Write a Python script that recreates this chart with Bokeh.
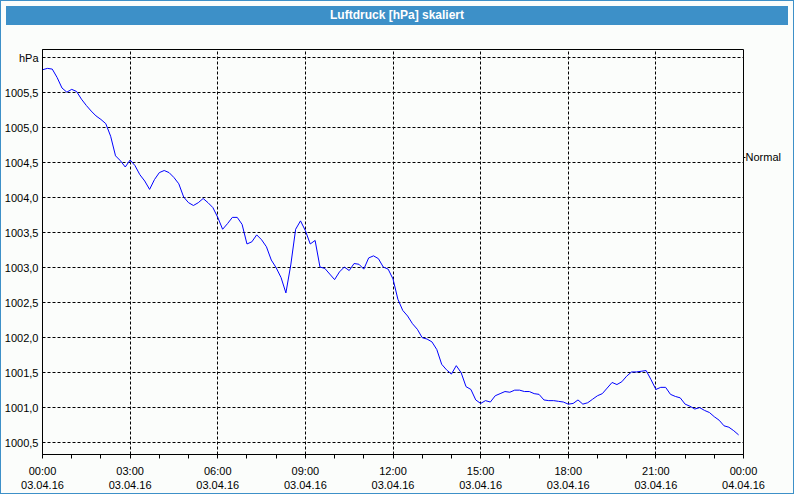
from bokeh.plotting import figure
from bokeh.models import FixedTicker, LinearAxis, Range1d, Div
from bokeh.layouts import column
from bokeh.embed import file_html
from bokeh.resources import INLINE

# Luftdruck (hPa), one reading every 10 minutes, 03.04.16 00:00 .. 23:50
pressure = [
    1005.83, 1005.85, 1005.84, 1005.72, 1005.57, 1005.51, 1005.55, 1005.52, 1005.41, 1005.32,
    1005.24, 1005.17, 1005.12, 1005.06, 1004.88, 1004.60, 1004.53, 1004.44, 1004.54, 1004.46,
    1004.33, 1004.24, 1004.12, 1004.26, 1004.36, 1004.39, 1004.36, 1004.29, 1004.20, 1004.01,
    1003.93, 1003.89, 1003.93, 1003.99, 1003.93, 1003.86, 1003.72, 1003.55, 1003.63, 1003.72,
    1003.72, 1003.62, 1003.34, 1003.37, 1003.47, 1003.40, 1003.30, 1003.11, 1003.00, 1002.86,
    1002.64, 1003.04, 1003.55, 1003.67, 1003.53, 1003.34, 1003.39, 1003.01, 1002.99, 1002.91,
    1002.83, 1002.94, 1003.01, 1002.96, 1003.06, 1003.05, 1002.98, 1003.14, 1003.17, 1003.13,
    1003.01, 1002.98, 1002.84, 1002.55, 1002.39, 1002.31, 1002.20, 1002.12, 1002.00, 1001.98,
    1001.94, 1001.83, 1001.62, 1001.54, 1001.48, 1001.60, 1001.50, 1001.30, 1001.26, 1001.11,
    1001.06, 1001.10, 1001.08, 1001.17, 1001.20, 1001.23, 1001.22, 1001.25, 1001.25, 1001.23,
    1001.23, 1001.20, 1001.19, 1001.11, 1001.10, 1001.10, 1001.09, 1001.08, 1001.05, 1001.06,
    1001.11, 1001.05, 1001.07, 1001.12, 1001.17, 1001.20, 1001.28, 1001.36, 1001.33, 1001.37,
    1001.45, 1001.51, 1001.51, 1001.52, 1001.53, 1001.40, 1001.26, 1001.29, 1001.29, 1001.19,
    1001.16, 1001.14, 1001.05, 1001.02, 1000.98, 1001.00, 1000.96, 1000.93, 1000.87, 1000.82,
    1000.74, 1000.72, 1000.67, 1000.61,
]
step_minutes = 10
x_hours = [i * step_minutes / 60 for i in range(len(pressure))]

x_ticks = [0, 3, 6, 9, 12, 15, 18, 21, 24]
x_labels = [
    "00:00\n03.04.16", "03:00\n03.04.16", "06:00\n03.04.16", "09:00\n03.04.16",
    "12:00\n03.04.16", "15:00\n03.04.16", "18:00\n03.04.16", "21:00\n03.04.16",
    "00:00\n04.04.16",
]
x_minor = list(range(25))

y_ticks = [1000.5, 1001.0, 1001.5, 1002.0, 1002.5, 1003.0, 1003.5, 1004.0,
           1004.5, 1005.0, 1005.5, 1006.0]
y_labels = ["1000,5", "1001,0", "1001,5", "1002,0", "1002,5", "1003,0", "1003,5",
            "1004,0", "1004,5", "1005,0", "1005,5", "hPa"]

normal_value = 1004.58
normal_label = "Normal"
title_text = "Luftdruck [hPa] skaliert"

FONT = "Liberation Sans"
BG = "#fbfdfb"
BLUE_BAR = "#3d90c8"

W = 782

p = figure(width=W, height=463, output_backend="svg", toolbar_location=None,
           x_range=Range1d(0, 24), y_range=Range1d(1000.33, 1006.12),
           min_border_left=38, min_border_right=38, min_border_top=19, min_border_bottom=37,
           background_fill_color=BG, border_fill_color=BG)

p.outline_line_color = "black"
p.outline_line_width = 1

xa = p.xaxis[0]
xa.ticker = FixedTicker(ticks=x_ticks, minor_ticks=x_minor)
xa.major_label_overrides = dict(zip(x_ticks, x_labels))
xa.major_tick_out = 0
xa.major_tick_in = 0
xa.minor_tick_out = 4
xa.minor_tick_in = 0
xa.minor_tick_line_color = "black"
xa.axis_line_color = "black"
xa.major_label_standoff = 6
xa.major_label_text_font = FONT
xa.major_label_text_font_size = "11px"
xa.major_label_text_color = "black"

ya = p.yaxis[0]
ya.ticker = FixedTicker(ticks=y_ticks, minor_ticks=[])
ya.major_label_overrides = dict(zip(y_ticks, y_labels))
ya.major_tick_out = 0
ya.major_tick_in = 0
ya.minor_tick_line_color = None
ya.axis_line_color = "black"
ya.major_label_standoff = 4
ya.major_label_text_font = FONT
ya.major_label_text_font_size = "11px"
ya.major_label_text_color = "black"

for g in (p.xgrid[0], p.ygrid[0]):
    g.grid_line_color = "black"
    g.grid_line_dash = "3 2"
    g.grid_line_width = 1
p.xgrid[0].ticker = FixedTicker(ticks=x_ticks[1:-1])

ra = LinearAxis(ticker=FixedTicker(ticks=[normal_value], minor_ticks=[]),
                major_label_overrides={normal_value: normal_label},
                axis_line_color=None, major_tick_out=2, major_tick_in=0,
                major_tick_line_color="black", minor_tick_line_color=None,
                major_label_standoff=0, major_label_text_font=FONT,
                major_label_text_font_size="11px", major_label_text_color="black")
p.add_layout(ra, "right")

p.line(x_hours, pressure, line_color="#0000ff", line_width=1)

title = Div(text=title_text, width=W, height=19,
            styles={"background-color": BLUE_BAR, "color": "white", "font-weight": "bold",
                    "text-align": "center", "font-family": FONT, "font-size": "12px",
                    "line-height": "19px"})

layout = column(title, p, spacing=0,
                styles={"border": "1px solid " + BLUE_BAR, "background-color": BG})
open("out.html", "w").write(file_html(layout, INLINE))
